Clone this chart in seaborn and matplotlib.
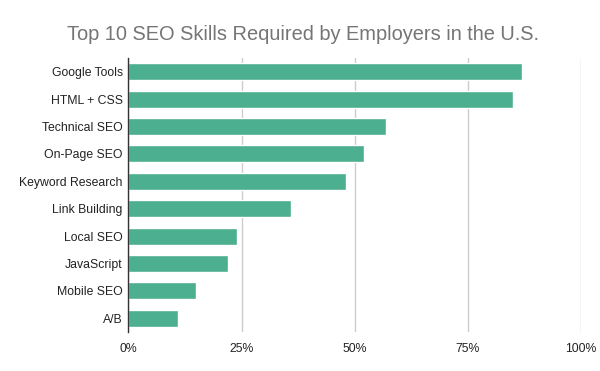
import pandas as pd
import matplotlib.pyplot as plt
import seaborn as sns
from matplotlib.ticker import PercentFormatter

# %% Data

skills = ['Google Tools', 'HTML + CSS', 'Technical SEO', 'On-Page SEO',
          'Keyword Research', 'Link Building', 'Local SEO', 'JavaScript',
          'Mobile SEO', 'A/B']
share = [87, 85, 57, 52, 48, 36, 24, 22, 15, 11]
xticks = [0, 25, 50, 75, 100]

df = pd.DataFrame({'skill': skills, 'share': share})

# %% Plot

sns.set_style('white')
plt.rcParams['font.family'] = ['Liberation Sans', 'DejaVu Sans']

fig, ax = plt.subplots(figsize = (6, 3.71), dpi = 100)
plt.subplots_adjust(left = 0.214, right = 0.968, top = 0.844, bottom = 0.105)

sns.barplot(data = df, x = 'share', y = 'skill', color = '#4caf8f',
            saturation = 1, width = 0.62, ax = ax, zorder = 3)

ax.set_xlim(0, 100)
ax.set_ylim(9.5, -0.5)
ax.set_xticks(xticks)
ax.xaxis.set_major_formatter(PercentFormatter(decimals = 0))
ax.grid(axis = 'x', color = '#cccccc', lw = 1, zorder = 0)
ax.tick_params(length = 0, labelsize = 8.8, colors = '#222222', pad = 4)
ax.tick_params(axis = 'x', pad = 8)

for side in ['top', 'right', 'bottom']:
    ax.spines[side].set_visible(False)
ax.spines['left'].set_color('#333333')
ax.spines['left'].set_linewidth(1)
ax.spines['left'].set_zorder(4)

ax.set_xlabel('')
ax.set_ylabel('')

fig.text(0.505, 0.908, 'Top 10 SEO Skills Required by Employers in the U.S.',
         fontsize = 14.4, color = '#757575', ha = 'center', va = 'center')

plt.savefig('out.png', dpi = 100, facecolor = 'white')
